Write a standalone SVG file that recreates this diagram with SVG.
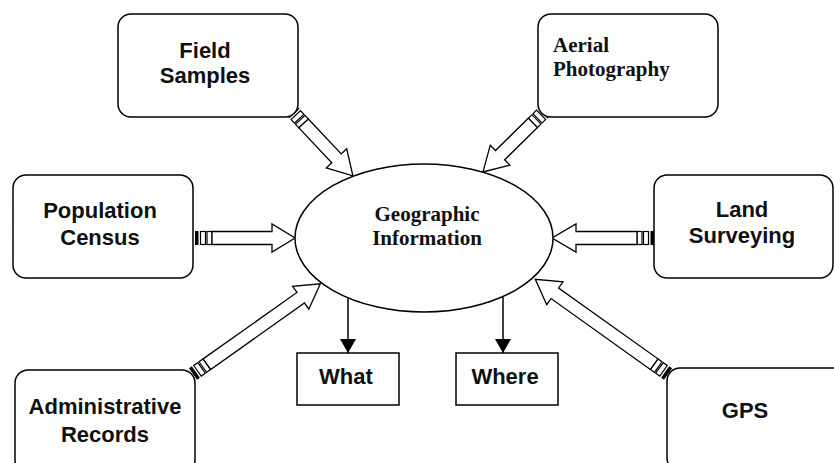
<svg xmlns="http://www.w3.org/2000/svg" xmlns:xlink="http://www.w3.org/1999/xlink" width="834" height="463" viewBox="0 0 834 463">
  <style>
    .box { fill: #ffffff; stroke: #000000; stroke-width: 1.5; }
    .sq { fill: #ffffff; stroke: #000000; stroke-width: 1.5; }
    .sans { font-family: "Liberation Sans", Arial, sans-serif; font-weight: bold; font-size: 22px; fill: #111111; text-anchor: middle; }
    .serif { font-family: "Liberation Serif", "Times New Roman", serif; font-weight: bold; font-size: 21px; fill: #111111; }
    .block { fill: #ffffff; stroke: #000000; stroke-width: 1.3; stroke-linejoin: miter; }
    .seg { fill: #ffffff; stroke: #000000; stroke-width: 1.2; }
    .bar { fill: #000000; stroke: #000000; stroke-width: 1; }
    .line { stroke: #000000; stroke-width: 1.5; fill: none; }
  </style>
  <defs>
    <!-- striped tail of a block arrow, drawn along +x from its origin -->
    <g id="tail">
      <rect class="bar" x="0.5" y="-6.5" width="2.5" height="13"/>
      <rect class="seg" x="5.5" y="-6.5" width="5" height="13"/>
      <rect class="seg" x="12" y="-6.5" width="5" height="13"/>
    </g>
    <marker id="tri" viewBox="0 0 14 16" refX="14" refY="8" markerWidth="14" markerHeight="16" markerUnits="userSpaceOnUse" orient="auto">
      <path d="M0,0 L14,8 L0,16 Z" fill="#000000"/>
    </marker>
  </defs>

  <rect width="834" height="463" fill="#ffffff"/>

  <!-- connectors -->
  <g id="connectors">
    <!-- Population Census -> centre -->
    <g transform="translate(195,238)">
      <use xlink:href="#tail"/>
      <path class="block" d="M17,-6.5 H77 V-14 L100,0 L77,14 V6.5 H17 Z"/>
    </g>
    <!-- Land Surveying -> centre -->
    <g transform="translate(654,238) rotate(180)">
      <use xlink:href="#tail"/>
      <path class="block" d="M17,-6.5 H78 V-14 L102,0 L78,14 V6.5 H17 Z"/>
    </g>
    <!-- Field Samples -> centre -->
    <g transform="translate(292,111) rotate(46.8)">
      <use xlink:href="#tail"/>
      <path class="block" d="M17,-6.5 H65 V-14 L89,0 L65,14 V6.5 H17 Z"/>
    </g>
    <!-- Aerial Photography -> centre -->
    <g transform="translate(545,111) rotate(135.5)">
      <use xlink:href="#tail"/>
      <path class="block" d="M17,-6.5 H63 V-14 L87,0 L63,14 V6.5 H17 Z"/>
    </g>
    <!-- Administrative Records -> centre -->
    <g transform="translate(193,374) rotate(-35.3)">
      <use xlink:href="#tail"/>
      <path class="block" d="M17,-6.5 H132 V-14 L156,0 L132,14 V6.5 H17 Z"/>
    </g>
    <!-- GPS -> centre -->
    <g transform="translate(668,374) rotate(-144.5)">
      <use xlink:href="#tail"/>
      <path class="block" d="M17,-6.5 H139 V-14 L163,0 L139,14 V6.5 H17 Z"/>
    </g>
    <!-- centre -> What / Where -->
    <line class="line" x1="348" y1="298" x2="348" y2="353" marker-end="url(#tri)"/>
    <line class="line" x1="503" y1="297" x2="503" y2="353" marker-end="url(#tri)"/>
  </g>

  <!-- nodes -->
  <g id="geographic-information">
    <ellipse cx="424" cy="238" rx="129" ry="74" class="box"/>
    <text class="serif" x="427" y="221" text-anchor="middle">Geographic</text>
    <text class="serif" x="427" y="245" text-anchor="middle">Information</text>
  </g>

  <g id="field-samples">
    <rect class="box" x="118" y="14" width="180" height="103" rx="13"/>
    <text class="sans" x="205" y="58">Field</text>
    <text class="sans" x="205" y="83">Samples</text>
  </g>

  <g id="aerial-photography">
    <rect class="box" x="538" y="14" width="180" height="103" rx="13"/>
    <text class="serif" x="553" y="52">Aerial</text>
    <text class="serif" x="553" y="76">Photography</text>
  </g>

  <g id="population-census">
    <rect class="box" x="13" y="175" width="180" height="103" rx="13"/>
    <text class="sans" x="100" y="218">Population</text>
    <text class="sans" x="100" y="245">Census</text>
  </g>

  <g id="land-surveying">
    <rect class="box" x="654" y="175" width="179" height="103" rx="13"/>
    <text class="sans" x="742" y="217">Land</text>
    <text class="sans" x="742" y="243">Surveying</text>
  </g>

  <g id="administrative-records">
    <rect class="box" x="15" y="370" width="180" height="103" rx="13"/>
    <text class="sans" x="105" y="414">Administrative</text>
    <text class="sans" x="105" y="442">Records</text>
  </g>

  <g id="gps">
    <rect class="box" x="667" y="368" width="180" height="103" rx="13"/>
    <text class="sans" x="745" y="418">GPS</text>
  </g>

  <g id="what">
    <rect class="sq" x="297" y="353" width="102" height="52"/>
    <text class="sans" x="346" y="384">What</text>
  </g>

  <g id="where">
    <rect class="sq" x="456" y="353" width="102" height="52"/>
    <text class="sans" x="505" y="384">Where</text>
  </g>
</svg>
